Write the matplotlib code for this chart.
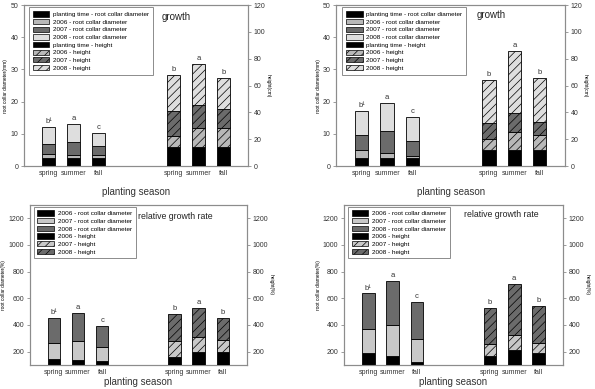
import numpy as np
import matplotlib
matplotlib.use("Agg")
import matplotlib.pyplot as plt
from matplotlib.patches import Patch

plt.rcParams["font.family"] = ["Liberation Sans", "DejaVu Sans"]
plt.rcParams["hatch.linewidth"] = 0.5

seasons = ["spring", "summer", "fall"]
left_letters = ["b¹", "a", "c"]
right_letters = ["b", "a", "b"]

# --- growth, panel A (root collar diameter mm / height cm), stacked segments
ga_rcd_plant = [2.6, 2.6, 2.6]
ga_rcd_2006 = [1.1, 0.8, 0.7]
ga_rcd_2007 = [3.3, 4.0, 3.0]
ga_rcd_2008 = [5.1, 5.7, 4.1]
ga_h_plant = [14.2, 14.2, 14.2]
ga_h_2006 = [8.2, 14.1, 14.1]
ga_h_2007 = [18.6, 17.2, 14.4]
ga_h_2008 = [26.6, 30.8, 22.9]

# --- growth, panel B
gb_rcd_plant = [2.6, 2.6, 2.6]
gb_rcd_2006 = [2.3, 1.6, 0.5]
gb_rcd_2007 = [4.9, 6.6, 4.8]
gb_rcd_2008 = [7.4, 8.9, 7.5]
gb_h_plant = [12.2, 12.2, 12.2]
gb_h_2006 = [7.7, 13.1, 11.2]
gb_h_2007 = [12.1, 14.2, 9.4]
gb_h_2008 = [32.3, 46.2, 33.0]

# --- relative growth rate (%), panel A
ra_rcd_2006 = [145, 135, 130]
ra_rcd_2007 = [117, 142, 105]
ra_rcd_2008 = [190, 215, 155]
ra_h_2006 = [160, 198, 198]
ra_h_2007 = [122, 112, 92]
ra_h_2008 = [198, 217, 165]

# --- relative growth rate (%), panel B
rb_rcd_2006 = [190, 170, 120]
rb_rcd_2007 = [180, 230, 175]
rb_rcd_2008 = [266, 333, 279]
rb_h_2006 = [165, 212, 192]
rb_h_2007 = [92, 110, 73]
rb_h_2008 = [270, 384, 279]

BLACK, LIGHT, DARK, PALE = "#000000", "#b8b8b8", "#6b6b6b", "#dedede"
HATCH = "////"
xl = np.array([1, 2, 3])
xr = np.array([6, 7, 8])
W = 0.52
SP = "#8c8c8c"

fig = plt.figure(figsize=(5.95, 3.89), dpi=100)


def stack(ax, x, segs, styles):
    bottom = np.zeros(len(x))
    for vals, (fc, h) in zip(segs, styles):
        ax.bar(x, vals, W, bottom=bottom, color=fc, edgecolor="black",
               linewidth=0.6, hatch=h, zorder=3)
        bottom = bottom + np.array(vals)
    return bottom


def panel(rect, rcd_segs, h_segs, rcd_styles, h_styles, ylim, yticks,
          y2lim, y2ticks, ylab, y2lab, title, tpos, tfs, leg_labels, leg_styles,
          lfs, xpad):
    ax = fig.add_axes(rect)
    ax2 = ax.twinx()
    topl = stack(ax, xl, rcd_segs, rcd_styles)
    topr = stack(ax2, xr, h_segs, h_styles)
    ax.set_xlim(0, 9)
    ax.set_ylim(*ylim)
    ax.set_yticks(yticks)
    ax2.set_ylim(*y2lim)
    ax2.set_yticks(y2ticks)
    ax.set_xticks(list(xl) + list(xr))
    ax.set_xticklabels(seasons * 2)
    for a in (ax, ax2):
        for s in a.spines.values():
            s.set_color(SP)
            s.set_linewidth(0.8)
        a.tick_params(labelsize=5, length=2.5, width=0.6, color=SP,
                      labelcolor="#333333", pad=1.5)
    ax.tick_params(axis="x", length=0, pad=3)
    ax.set_ylabel(ylab, fontsize=3.5, labelpad=1.5)
    ax2.set_ylabel(y2lab, fontsize=3.5, rotation=270, labelpad=4)
    ax.set_xlabel("planting season", fontsize=7, color="#333333", labelpad=xpad)
    off_l = (ylim[1] - ylim[0]) * 0.012
    off_r = (y2lim[1] - y2lim[0]) * 0.012
    for x, t, s in zip(xl, topl, left_letters):
        ax.text(x, t + off_l, s, ha="center", va="bottom", fontsize=5.5, color="#333333")
    for x, t, s in zip(xr, topr, right_letters):
        ax2.text(x, t + off_r, s, ha="center", va="bottom", fontsize=5.5, color="#333333")
    ax2.text(tpos[0], tpos[1], title, transform=ax2.transAxes, ha="center",
             va="center", fontsize=tfs, color="#222222")
    handles = [Patch(facecolor=fc, edgecolor="black", hatch=h, linewidth=0.5)
               for fc, h in leg_styles]
    leg = ax2.legend(handles, leg_labels, loc="upper left", bbox_to_anchor=lfs,
                     borderaxespad=0, fontsize=4.6, handlelength=2.6,
                     handleheight=0.9, labelspacing=0.28, handletextpad=0.6,
                     borderpad=0.6, fancybox=False, framealpha=1)
    leg.get_frame().set_edgecolor(SP)
    leg.get_frame().set_linewidth(0.7)
    leg.set_zorder(5)
    return ax, ax2


grow_labels = ["planting time - root collar diameter", "2006 - root collar diameter",
               "2007 - root collar diameter", "2008 - root collar diameter",
               "planting time - height", "2006 - height", "2007 - height", "2008 - height"]
grow_rcd_st = [(BLACK, ""), (LIGHT, ""), (DARK, ""), (PALE, "")]
grow_h_st = [(BLACK, ""), (LIGHT, HATCH), (DARK, HATCH), (PALE, HATCH)]

rgr_labels = ["2006 - root collar diameter", "2007 - root collar diameter",
              "2008 - root collar diameter", "2006 - height", "2007 - height",
              "2008 - height"]
rgr_rcd_st = [(BLACK, ""), ("#c8c8c8", ""), (DARK, "")]
rgr_h_st = [(BLACK, ""), ("#c8c8c8", HATCH), (DARK, HATCH)]

panel([0.040, 0.573, 0.377, 0.414],
      [ga_rcd_plant, ga_rcd_2006, ga_rcd_2007, ga_rcd_2008],
      [ga_h_plant, ga_h_2006, ga_h_2007, ga_h_2008],
      grow_rcd_st, grow_h_st, (0, 50), range(0, 51, 10), (0, 120), range(0, 121, 20),
      "root collar diameter(mm)", "height(cm)", "growth", (0.68, 0.925), 7,
      grow_labels, grow_rcd_st + grow_h_st, (0.022, 0.985), 7)

panel([0.565, 0.573, 0.385, 0.414],
      [gb_rcd_plant, gb_rcd_2006, gb_rcd_2007, gb_rcd_2008],
      [gb_h_plant, gb_h_2006, gb_h_2007, gb_h_2008],
      grow_rcd_st, grow_h_st, (0, 50), range(0, 51, 10), (0, 120), range(0, 121, 20),
      "root collar diameter(mm)", "height(cm)", "growth", (0.675, 0.938), 7,
      grow_labels, grow_rcd_st + grow_h_st, (0.026, 0.985), 7)

panel([0.050, 0.062, 0.365, 0.411],
      [ra_rcd_2006, ra_rcd_2007, ra_rcd_2008],
      [ra_h_2006, ra_h_2007, ra_h_2008],
      rgr_rcd_st, rgr_h_st, (100, 1300), range(200, 1201, 200), (100, 1300),
      range(200, 1201, 200), "root collar diameter(%)", "height(%)",
      "relative growth rate", (0.67, 0.925), 6.3, rgr_labels, rgr_rcd_st + rgr_h_st,
      (0.018, 0.99), 0.5)

panel([0.578, 0.062, 0.368, 0.411],
      [rb_rcd_2006, rb_rcd_2007, rb_rcd_2008],
      [rb_h_2006, rb_h_2007, rb_h_2008],
      rgr_rcd_st, rgr_h_st, (100, 1300), range(200, 1201, 200), (100, 1300),
      range(200, 1201, 200), "root collar diameter(%)", "height(%)",
      "relative growth rate", (0.72, 0.94), 6.3, rgr_labels, rgr_rcd_st + rgr_h_st,
      (0.018, 0.99), 0.5)

fig.savefig("out.png", dpi=100)
